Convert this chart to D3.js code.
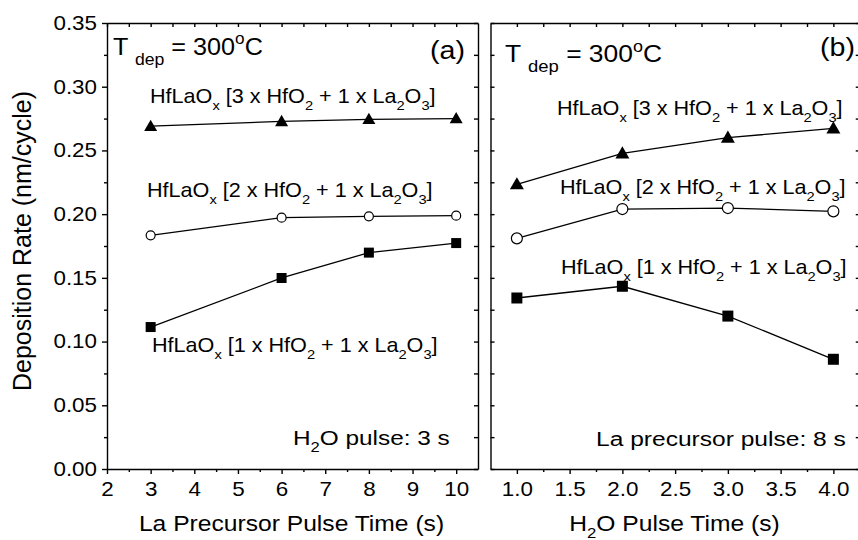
<!DOCTYPE html>
<html>
<head>
<meta charset="utf-8">
<script src="https://cdn.jsdelivr.net/npm/d3@7"></script>
<style>
  body { margin: 0; background: #fff; }
  svg { font-family: Arial, "Liberation Sans", sans-serif; }
  .axis path, .axis line { stroke: #000; stroke-width: 1.4; }
  .axis text { fill: #000; }
</style>
</head>
<body>
<svg width="858" height="540"></svg>
<script>
// data
var xA = [3, 6, 8, 10];
var triA  = [0.269, 0.2728, 0.2744, 0.275];
var circA = [0.1834, 0.1972, 0.1983, 0.1988];
var sqA   = [0.1114, 0.1499, 0.1698, 0.1773];

var xB = [1, 2, 3, 4];
var triB  = [0.2234, 0.2477, 0.2600, 0.2673];
var circB = [0.1810, 0.2040, 0.2048, 0.2022];
var sqB   = [0.1342, 0.1434, 0.1200, 0.0861];

var yTicks  = [0, 0.05, 0.10, 0.15, 0.20, 0.25, 0.30, 0.35];
var xTicksA = [2, 3, 4, 5, 6, 7, 8, 9, 10];
var xTicksB = [1.0, 1.5, 2.0, 2.5, 3.0, 3.5, 4.0];

var lab3 = ["HfLaO", ["x", "sub"], " [3 x HfO", ["2", "sub"], " + 1 x La", ["2", "sub"], "O", ["3", "sub"], "]"];
var lab2 = ["HfLaO", ["x", "sub"], " [2 x HfO", ["2", "sub"], " + 1 x La", ["2", "sub"], "O", ["3", "sub"], "]"];
var lab1 = ["HfLaO", ["x", "sub"], " [1 x HfO", ["2", "sub"], " + 1 x La", ["2", "sub"], "O", ["3", "sub"], "]"];
var tdep = ["T ", ["dep", "dep"], " = 300", ["o", "sup"], "C"];

var SX = 1.12; // the original is a bit wider than Arial

var svg = d3.select("svg");

var y = d3.scaleLinear().domain([0, 0.35]).range([469, 23]);
var xa = d3.scaleLinear().domain([2, 10.5]).range([107, 478]);
var xb = d3.scaleLinear().domain([0.75, 4.25]).range([490.5, 859.75]);

function richText(parent, x, yy, parts, size, anchor, sx) {
  var g = parent.append("g").attr("transform", "translate(" + x + "," + yy + ") scale(" + (sx || SX) + ",1)");
  var t = g.append("text").attr("font-size", size).attr("text-anchor", anchor || "start").attr("fill", "#000");
  var off = 0;
  parts.forEach(function(p) {
    var txt = p, kind = "";
    if (Array.isArray(p)) { txt = p[0]; kind = p[1]; }
    var want = 0, fs = size;
    if (kind == "sub") { want = size * 0.34; fs = size * 0.68; }
    if (kind == "dep") { want = size * 0.42; fs = size * 0.7; }
    if (kind == "sup") { want = -size * 0.42; fs = size * 0.68; }
    t.append("tspan").attr("dy", want - off).attr("font-size", fs).text(txt);
    off = want;
  });
  return g;
}

function minor(vals, step) {
  var out = [];
  for (var i = 0; i < vals.length - 1; i++) out.push(vals[i] + step);
  return out;
}

function panel(x, xTicks, xMinor, fmt, left) {
  var x0 = x.range()[0], x1 = x.range()[1];
  var g = svg.append("g");
  var yMinor = minor(yTicks, 0.025);

  // bottom
  g.append("g").attr("class", "axis").attr("transform", "translate(0,469)")
    .call(d3.axisBottom(x).tickValues(xTicks).tickFormat(fmt).tickSize(5).tickPadding(8).tickSizeOuter(0))
    .call(function(a) { a.selectAll("text").attr("font-size", 20).attr("transform", "scale(" + SX + ",1)"); });
  g.append("g").attr("class", "axis").attr("transform", "translate(0,469)")
    .call(d3.axisBottom(x).tickValues(xMinor).tickFormat("").tickSize(3).tickSizeOuter(0))
    .select(".domain").remove();
  // top
  g.append("g").attr("class", "axis").attr("transform", "translate(0,23)")
    .call(d3.axisBottom(x).tickValues(xTicks.concat(xMinor)).tickFormat("").tickSize(4).tickSizeOuter(0));

  // left
  if (left) {
    g.append("g").attr("class", "axis").attr("transform", "translate(" + x0 + ",0)")
      .call(d3.axisLeft(y).tickValues(yTicks).tickFormat(d3.format(".2f")).tickSize(5).tickSizeOuter(0))
      .call(function(a) { a.selectAll("text").attr("font-size", 20).attr("x", -10 / SX).attr("transform", "scale(" + SX + ",1)"); });
    g.append("g").attr("class", "axis").attr("transform", "translate(" + x0 + ",0)")
      .call(d3.axisLeft(y).tickValues(yMinor).tickFormat("").tickSize(3).tickSizeOuter(0))
      .select(".domain").remove();
  } else {
    g.append("g").attr("class", "axis").attr("transform", "translate(" + x0 + ",0)")
      .call(d3.axisRight(y).tickValues(yTicks.concat(yMinor)).tickFormat("").tickSize(4).tickSizeOuter(0));
  }
  // right
  g.append("g").attr("class", "axis").attr("transform", "translate(" + x1 + ",0)")
    .call(d3.axisLeft(y).tickValues(yTicks.concat(yMinor)).tickFormat("").tickSize(4).tickSizeOuter(0));
  return g;
}

function series(g, x, xs, vals, kind, s) {
  var pts = xs.map(function(d, i) { return [x(d), y(vals[i])]; });
  g.append("path").attr("d", d3.line()(pts)).attr("fill", "none").attr("stroke", "#000").attr("stroke-width", 1.3);
  if (kind == "circle") {
    g.selectAll(null).data(pts).enter().append("circle")
      .attr("cx", function(d) { return d[0]; }).attr("cy", function(d) { return d[1]; })
      .attr("r", s / 2).attr("fill", "#fff").attr("stroke", "#000").attr("stroke-width", 1.2);
  } else {
    var sym = kind == "tri" ? d3.symbol(d3.symbolTriangle, Math.sqrt(3) / 4 * s * s)
                            : d3.symbol(d3.symbolSquare, s * s);
    g.selectAll(null).data(pts).enter().append("path")
      .attr("d", sym).attr("fill", "#000")
      .attr("transform", function(d) { return "translate(" + d[0] + "," + (d[1] + (kind == "tri" ? 1 : 0)) + ")"; });
  }
}

// panel (a)
var ga = panel(xa, xTicksA, minor(xTicksA, 0.5), d3.format("d"), true);
series(ga, xa, xA, triA, "tri", 13);
series(ga, xa, xA, circA, "circle", 9);
series(ga, xa, xA, sqA, "square", 10);

// panel (b)
var gb = panel(xb, xTicksB, minor(xTicksB, 0.25), d3.format(".1f"), false);
series(gb, xb, xB, triB, "tri", 14);
series(gb, xb, xB, circB, "circle", 11);
series(gb, xb, xB, sqB, "square", 11);

// labels
richText(svg, 113, 54.5, tdep, 24, "start", 1.05);
richText(svg, 505, 62, tdep, 24, "start", 1.1);
richText(svg, 465, 59, ["(a)"], 26, "end", 1.1);
richText(svg, 855, 56, ["(b)"], 26, "end", 1.1);

richText(svg, 150, 103, lab3, 20, "start", 1.08);
richText(svg, 147, 197, lab2, 20, "start", 1.08);
richText(svg, 152, 352, lab1, 20, "start", 1.08);
richText(svg, 557, 115, lab3, 20, "start", 1.08);
richText(svg, 560, 194, lab2, 20, "start", 1.08);
richText(svg, 561, 274, lab1, 20, "start", 1.08);

richText(svg, 293, 445, ["H", ["2", "sub"], "O pulse: 3 s"], 21, "start", 1.16);
richText(svg, 596, 445.5, ["La precursor pulse: 8 s"], 21, "start", 1.17);

// axis titles
richText(svg, 291.5, 531, ["La Precursor Pulse Time (s)"], 22, "middle");
richText(svg, 674.5, 531, ["H", ["2", "sub"], "O Pulse Time (s)"], 22, "middle");
svg.append("text").attr("transform", "translate(31,241) rotate(-90)")
  .attr("text-anchor", "middle").attr("font-size", 25).attr("fill", "#000")
  .text("Deposition Rate (nm/cycle)");
</script>
</body>
</html>
